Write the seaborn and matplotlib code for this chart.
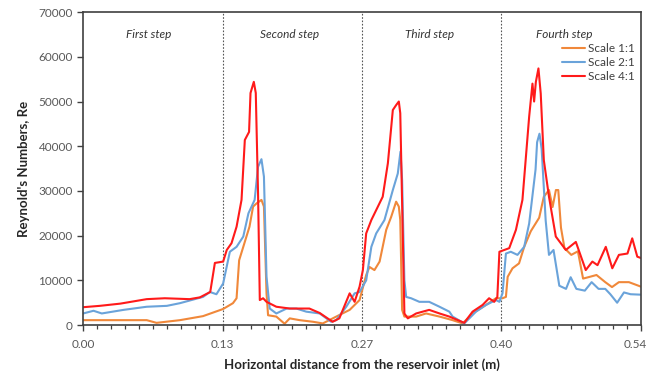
import numpy as np
import pandas as pd
import matplotlib
matplotlib.use("Agg")
import matplotlib.pyplot as plt
import matplotlib.transforms as mtransforms
from matplotlib.ticker import MultipleLocator, FixedLocator
from matplotlib.lines import Line2D
import seaborn as sns

# ---------------- data ----------------
series_names = ["Scale 1:1", "Scale 2:1", "Scale 4:1"]

x_scale11 = [0.000, 0.0615, 0.071, 0.0937, 0.116, 0.1355, 0.145, 0.1485, 0.151, 0.155,
             0.161, 0.1645, 0.1678, 0.1726, 0.175, 0.1775, 0.179, 0.187, 0.195, 0.200,
             0.2096, 0.2225, 0.232, 0.245, 0.258, 0.2676, 0.274, 0.2772, 0.282, 0.287,
             0.2934, 0.2982, 0.303, 0.3056, 0.307, 0.3088, 0.311, 0.3224, 0.332, 0.345,
             0.3577, 0.3674, 0.377, 0.390, 0.3996, 0.406, 0.4093, 0.411, 0.4157, 0.422,
             0.427, 0.4334, 0.4415, 0.446, 0.451, 0.4545, 0.4577, 0.460, 0.4626, 0.466,
             0.4726, 0.479, 0.484, 0.489, 0.497, 0.5055, 0.512, 0.5187, 0.5284, 0.540]
re_scale11 = [1100, 1100, 500, 1100, 2000, 3600, 4900, 6000, 14500, 17500,
              22000, 26500, 27200, 28000, 26500, 7100, 2200, 1900, 300, 1500,
              1100, 740, 370, 1900, 3400, 5600, 11200, 13000, 12300, 14200,
              21300, 24200, 27600, 26500, 23500, 3400, 1900, 1900, 2600, 1900,
              1100, 370, 2600, 4500, 6000, 6000, 6300, 10800, 12700, 13800,
              17500, 21000, 24000, 28700, 30200, 26400, 30200, 30200, 21800, 17200,
              15700, 16500, 10400, 10700, 11200, 9600, 8500, 9600, 9600, 8600]

x_scale21 = [0.000, 0.010, 0.018, 0.039, 0.0615, 0.081, 0.0937, 0.116, 0.1227, 0.129,
             0.1355, 0.142, 0.1485, 0.155, 0.160, 0.166, 0.1693, 0.1726, 0.175, 0.1775,
             0.1806, 0.187, 0.197, 0.2064, 0.216, 0.229, 0.240, 0.245, 0.2547, 0.2628,
             0.2676, 0.274, 0.279, 0.2837, 0.2917, 0.2998, 0.3046, 0.3072, 0.3088, 0.311,
             0.3127, 0.3175, 0.3255, 0.335, 0.345, 0.3545, 0.3577, 0.369, 0.3803, 0.390,
             0.3996, 0.403, 0.406, 0.4093, 0.414, 0.4205, 0.427, 0.4318, 0.438, 0.4395,
             0.4418, 0.4439, 0.4478, 0.451, 0.4554, 0.461, 0.4675, 0.472, 0.4775, 0.4857,
             0.4923, 0.499, 0.5055, 0.5104, 0.517, 0.5236, 0.530, 0.540]
re_scale21 = [2600, 3200, 2600, 3400, 4100, 4300, 4900, 6300, 7400, 6900,
              9300, 16400, 17500, 19800, 25000, 28000, 35400, 37100, 33200, 10800,
              3700, 2600, 3700, 3700, 3000, 2600, 740, 1100, 4100, 7100,
              7400, 10000, 17500, 20500, 23500, 30200, 33900, 38800, 32400, 10000,
              6300, 6000, 5200, 5200, 4100, 3000, 1900, 370, 3000, 4500,
              5600, 5200, 7100, 16000, 16400, 15700, 17500, 22700, 34800, 40900,
              42800, 39400, 23400, 15700, 16800, 8800, 8100, 10700, 8100, 7700,
              9600, 8100, 8100, 6900, 5000, 7300, 6900, 6800]

x_scale41 = [0.000, 0.016, 0.036, 0.0615, 0.079, 0.103, 0.113, 0.123, 0.1275, 0.1355,
             0.139, 0.1436, 0.1485, 0.1533, 0.1565, 0.1606, 0.162, 0.1652, 0.1671, 0.1693,
             0.171, 0.1742, 0.1775, 0.187, 0.200, 0.219, 0.229, 0.2415, 0.248, 0.258,
             0.2628, 0.2676, 0.2708, 0.274, 0.279, 0.290, 0.295, 0.2998, 0.303, 0.3056,
             0.307, 0.311, 0.3143, 0.3224, 0.335, 0.345, 0.3545, 0.369, 0.377, 0.3867,
             0.393, 0.398, 0.401, 0.403, 0.4125, 0.419, 0.4253, 0.4318, 0.435, 0.4366,
             0.4383, 0.4408, 0.443, 0.446, 0.451, 0.4576, 0.4673, 0.477, 0.4866, 0.493,
             0.498, 0.506, 0.5123, 0.5187, 0.527, 0.5316, 0.5365, 0.540]
re_scale41 = [4000, 4300, 4800, 5800, 6000, 5800, 6200, 7400, 13900, 14200,
              16800, 18300, 22000, 28000, 41400, 43200, 51900, 54400, 51900, 29500,
              5600, 6000, 5200, 4100, 3700, 3700, 2700, 740, 1500, 7100,
              5200, 8600, 12300, 20500, 23500, 28700, 36200, 48100, 49200, 50000,
              47400, 2600, 1500, 2600, 3400, 2600, 1900, 500, 3000, 4500,
              6000, 5200, 6300, 16400, 17200, 21300, 28000, 46600, 54000, 50000,
              54400, 57400, 51800, 36900, 28700, 19800, 16800, 18600, 12300, 14200,
              13400, 17500, 12700, 15700, 16000, 19400, 15300, 15000]

step_labels = ["First step", "Second step", "Third step", "Fourth step"]
step_label_x = [0.063, 0.200, 0.335, 0.466]
step_boundaries = [0.135, 0.27, 0.405]

x_tick_values = [0.0, 0.135, 0.27, 0.405, 0.54]
x_tick_labels = ["0.00", "0.13", "0.27", "0.40", "0.54"]

colors = {"Scale 1:1": "#F0883A", "Scale 2:1": "#6AA3DA", "Scale 4:1": "#FF1A1A"}

# ---------------- frame ----------------
frames = []
for name, xs, ys in zip(series_names,
                        [x_scale11, x_scale21, x_scale41],
                        [re_scale11, re_scale21, re_scale41]):
    frames.append(pd.DataFrame({"x": xs, "Re": ys, "Scale": name}))
df = pd.concat(frames, ignore_index=True)

sns.set_style("ticks")
plt.rcParams["font.family"] = ["Lato", "DejaVu Sans"]

fig = plt.figure(figsize=(6.5, 3.78), dpi=100)
ax = fig.add_axes([0.128, 0.140, 0.858, 0.828])

sns.lineplot(data=df, x="x", y="Re", hue="Scale", palette=colors,
             hue_order=series_names, sort=False, estimator=None,
             linewidth=1.5, ax=ax, legend=False)

for b in step_boundaries:
    ax.axvline(b, color="#555555", linestyle=(0, (1.5, 1.5)), linewidth=0.8, zorder=0)

for lab, xp in zip(step_labels, step_label_x):
    ax.text(xp, 64900, lab, ha="center", va="center", fontsize=8.5,
            style="italic", color="#333333")

ax.set_xlim(0, 0.54)
ax.set_ylim(0, 70000)
ax.xaxis.set_major_locator(FixedLocator(x_tick_values))
ax.set_xticklabels(x_tick_labels)
ax.xaxis.set_minor_locator(MultipleLocator(0.0135))
ax.yaxis.set_major_locator(MultipleLocator(10000))
ax.tick_params(axis="both", which="major", direction="out", length=4, width=1.0,
               colors="#404040", labelsize=8.5, labelcolor="#595959")
ax.tick_params(axis="x", which="minor", direction="out", length=3, width=0.9, colors="#404040")
ax.tick_params(axis="x", which="major", pad=6)

# keep the last x tick label inside the figure
last_lab = ax.get_xticklabels()[-1]
last_lab.set_transform(last_lab.get_transform() +
                       mtransforms.ScaledTranslation(-6 / 100, 0, fig.dpi_scale_trans))

for sp in ax.spines.values():
    sp.set_visible(True)
    sp.set_color("#404040")
    sp.set_linewidth(1.2)

ax.set_xlabel("Horizontal distance from the reservoir inlet (m)", fontsize=9.5,
              fontweight="bold", color="#262626", labelpad=6)
ax.set_ylabel("Reynold's Numbers, Re", fontsize=9.5, fontweight="bold",
              color="#262626", labelpad=6)

handles = [Line2D([0], [0], color=colors[n], lw=1.5) for n in series_names]
ax.legend(handles, series_names, loc="upper right", bbox_to_anchor=(0.997, 0.915),
          frameon=False, fontsize=8.5, handlelength=2.0, handletextpad=0.2,
          labelspacing=0.25, borderaxespad=0, labelcolor="#404040")

fig.savefig("out.png", dpi=100)
